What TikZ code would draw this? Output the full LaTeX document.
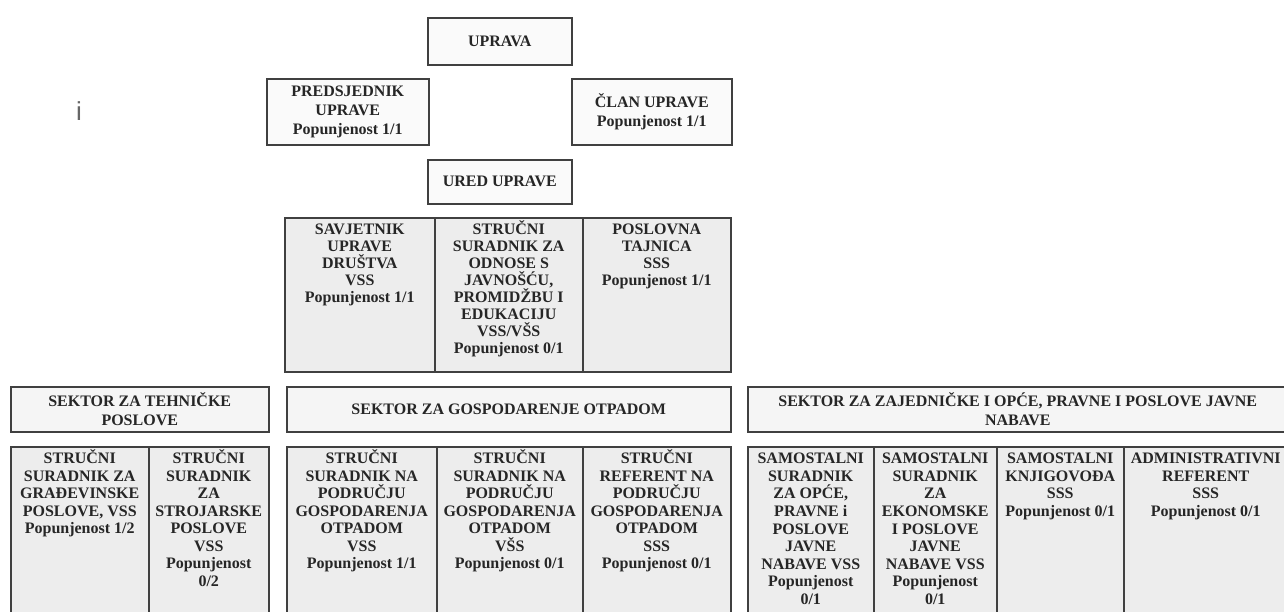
\documentclass[tikz,border=0pt]{standalone}
\usepackage{fontspec}
\setmainfont{Liberation Serif}
\setsansfont{Liberation Sans}
\newcommand{\topstr}{\rule{0pt}{14.5pt}}

\begin{document}
\begin{tikzpicture}[x=1pt, y=-1pt,
                    orgbox/.style={draw=black!75, line width=1.5pt, fill=black!2,
                                   inner sep=0pt, anchor=north west},
                    headbox/.style={orgbox, fill=black!4},
                    orgcell/.style={orgbox, fill=black!7},
                    headtext/.style={font=\bfseries\fontsize{16}{19}\selectfont,
                                     text=black!85, align=center, inner sep=0pt},
                    celltext/.style={headtext, font=\bfseries\fontsize{16}{17.5}\selectfont,
                                     anchor=north}]

  \useasboundingbox (0,0) rectangle (1284,611);

  % uprava
  \node[orgbox, minimum width=144pt, minimum height=47pt] (uprava) at (427,17) {};
  \node[orgbox, minimum width=162pt, minimum height=66pt] (predsj) at (266,78) {};
  \node[orgbox, minimum width=160pt, minimum height=66pt] (clan) at (571,78) {};
  \node[orgbox, minimum width=144pt, minimum height=44pt] (ured) at (427,159) {};

  \node[headtext] (upravaT) at (uprava) {UPRAVA};
  \node[headtext] (predsjT) at (predsj) {PREDSJEDNIK\\UPRAVE\\Popunjenost 1/1};
  \node[headtext] (clanT) at (clan) {ČLAN UPRAVE\\Popunjenost 1/1};
  \node[headtext] (uredT) at (ured) {URED UPRAVE};

  % ured uprave
  \node[orgcell, minimum width=150pt, minimum height=154pt] (savj) at (284,217) {};
  \node[orgcell, minimum width=148pt, minimum height=154pt] (odnosi) at (434,217) {};
  \node[orgcell, minimum width=148pt, minimum height=154pt] (tajn) at (582,217) {};

  \node[celltext, font=\bfseries\fontsize{16}{17}\selectfont] (savjT) at ([yshift=-3pt]savj.north)
    {\topstr SAVJETNIK\\UPRAVE\\DRUŠTVA\\VSS\\Popunjenost 1/1};
  \node[celltext, font=\bfseries\fontsize{16}{17}\selectfont] (odnosiT) at ([yshift=-3pt]odnosi.north)
    {\topstr STRUČNI\\SURADNIK ZA\\ODNOSE S\\JAVNOŠĆU,\\PROMIDŽBU I\\EDUKACIJU\\VSS/VŠS\\Popunjenost 0/1};
  \node[celltext, font=\bfseries\fontsize{16}{17}\selectfont] (tajnT) at ([yshift=-3pt]tajn.north)
    {\topstr POSLOVNA\\TAJNICA\\SSS\\Popunjenost 1/1};

  % sektori
  \node[headbox, minimum width=258pt, minimum height=45pt] (tehn) at (10,386) {};
  \node[headbox, minimum width=444pt, minimum height=45pt] (otpad) at (286,386) {};
  \node[headbox, minimum width=540pt, minimum height=45pt] (zajed) at (747,386) {};

  \node[headtext] (tehnT) at (tehn) {SEKTOR ZA TEHNIČKE\\POSLOVE};
  \node[headtext] (otpadT) at (otpad) {SEKTOR ZA GOSPODARENJE OTPADOM};
  \node[headtext] (zajedT) at (zajed) {SEKTOR ZA ZAJEDNIČKE I OPĆE, PRAVNE I POSLOVE JAVNE\\NABAVE};

  % radna mjesta
  \node[orgcell, minimum width=138pt, minimum height=194pt] (gradj) at (10,446) {};
  \node[orgcell, minimum width=120pt, minimum height=194pt] (stroj) at (148,446) {};
  \node[orgcell, minimum width=150pt, minimum height=194pt] (otpadA) at (286,446) {};
  \node[orgcell, minimum width=146pt, minimum height=194pt] (otpadB) at (436,446) {};
  \node[orgcell, minimum width=148pt, minimum height=194pt] (otpadC) at (582,446) {};
  \node[orgcell, minimum width=126pt, minimum height=194pt] (pravne) at (747,446) {};
  \node[orgcell, minimum width=123pt, minimum height=194pt] (ekon) at (873,446) {};
  \node[orgcell, minimum width=127pt, minimum height=194pt] (knjig) at (996,446) {};
  \node[orgcell, minimum width=164pt, minimum height=194pt] (admin) at (1123,446) {};

  \node[celltext] (gradjT) at ([yshift=-3pt]gradj.north)
    {\topstr STRUČNI\\SURADNIK ZA\\GRAĐEVINSKE\\POSLOVE, VSS\\Popunjenost 1/2};
  \node[celltext] (strojT) at ([yshift=-3pt]stroj.north)
    {\topstr STRUČNI\\SURADNIK\\ZA\\STROJARSKE\\POSLOVE\\VSS\\Popunjenost\\0/2};
  \node[celltext] (otpadAT) at ([yshift=-3pt]otpadA.north)
    {\topstr STRUČNI\\SURADNIK NA\\PODRUČJU\\GOSPODARENJA\\OTPADOM\\VSS\\Popunjenost 1/1};
  \node[celltext] (otpadBT) at ([yshift=-3pt]otpadB.north)
    {\topstr STRUČNI\\SURADNIK NA\\PODRUČJU\\GOSPODARENJA\\OTPADOM\\VŠS\\Popunjenost 0/1};
  \node[celltext] (otpadCT) at ([yshift=-3pt]otpadC.north)
    {\topstr STRUČNI\\REFERENT NA\\PODRUČJU\\GOSPODARENJA\\OTPADOM\\SSS\\Popunjenost 0/1};
  \node[celltext, font=\bfseries\fontsize{16}{17.6}\selectfont] (pravneT) at ([yshift=-3pt]pravne.north)
    {\topstr SAMOSTALNI\\SURADNIK\\ZA OPĆE,\\PRAVNE i\\POSLOVE\\JAVNE\\NABAVE VSS\\Popunjenost\\0/1};
  \node[celltext, font=\bfseries\fontsize{16}{17.6}\selectfont] (ekonT) at ([yshift=-3pt]ekon.north)
    {\topstr SAMOSTALNI\\SURADNIK\\ZA\\EKONOMSKE\\I POSLOVE\\JAVNE\\NABAVE VSS\\Popunjenost\\0/1};
  \node[celltext] (knjigT) at ([yshift=-3pt]knjig.north)
    {\topstr SAMOSTALNI\\KNJIGOVOĐA\\SSS\\Popunjenost 0/1};
  \node[celltext] (adminT) at ([yshift=-3pt]admin.north)
    {\topstr ADMINISTRATIVNI\\REFERENT\\SSS\\Popunjenost 0/1};

  \node[font=\sffamily\fontsize{26}{26}\selectfont, text=black!60, inner sep=0pt] (oznaka) at (79,111) {i};
\end{tikzpicture}
\end{document}
